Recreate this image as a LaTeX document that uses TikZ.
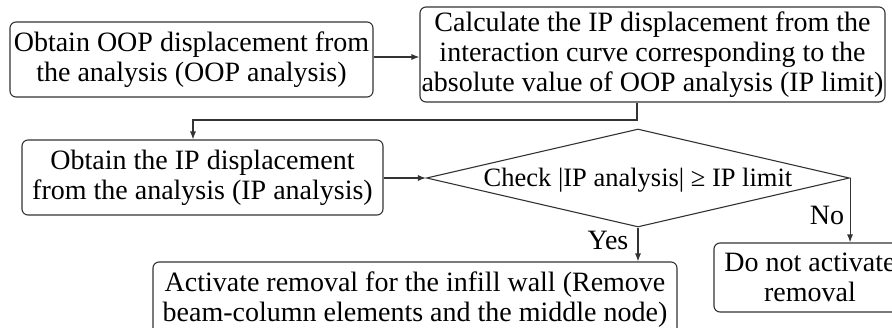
\documentclass[tikz,border=0pt]{standalone}
\usepackage{fontspec}
\setmainfont{Liberation Serif}
\usetikzlibrary{shapes.geometric,arrows.meta}
\begin{document}
\begin{tikzpicture}[x=1pt,y=-1pt,
  line width=1.1pt,
  flowbox/.style={draw=black!80, rounded corners=6pt, align=center, inner sep=0pt,
    font=\fontsize{28}{30}\selectfont, text=black},
  lbl/.style={inner sep=0pt, font=\fontsize{28}{30}\selectfont, text=black},
  arr/.style={draw=black!80, -{Latex[length=8pt,width=6pt]}},
  ]
\useasboundingbox (0,0) rectangle (892,327);
\clip (0,0) rectangle (892,327);
\fill[white] (0,0) rectangle (892,327);
\node[flowbox, minimum width=363pt, minimum height=75pt] (b1) at (191.5,59.5)
  {Obtain OOP displacement from\\the analysis (OOP analysis)};
\node[flowbox, minimum width=465pt, minimum height=95pt] (b2) at (652.5,54.5)
  {Calculate the IP displacement from the\\interaction curve corresponding to the\\absolute value of OOP analysis (IP limit)};
\node[flowbox, minimum width=361pt, minimum height=75pt] (b3) at (202.5,177.5)
  {Obtain the IP displacement\\from the analysis (IP analysis)};
\node[diamond, draw=black!80, minimum width=423pt, minimum height=98pt, inner sep=0pt] (d) at (638,178) {};
\node[lbl, font=\fontsize{26.5}{30}\selectfont] (dt) at ([yshift=-2pt]d.center) {Check |IP analysis| ≥ IP limit};
\node[flowbox, minimum width=524pt, minimum height=75pt] (b4) at (415,299.5)
  {Activate removal for the infill wall (Remove\\beam-column elements and the middle node)};
\node[flowbox, minimum width=192pt, minimum height=69pt] (b5) at (810,277.5)
  {Do not activate\\removal};
\coordinate (k1) at (637,120);
\coordinate (k2) at (193,120);
\draw[arr] (b1.east |- 0,57) -- (b2.west |- 0,57);
\draw[arr] (b2.south -| k1) -- (k1) -- (k2) -- (b3.north -| k2);
\draw[arr] (b3.east |- d.west) -- (d.west);
\draw[arr] (d.south) -- (d.south |- b4.north);
\draw[arr] (d.east) -- (d.east |- b5.north);
\node[lbl] (yes) at (608,240) {Yes};
\node[lbl] (no) at (827,215) {No};
\end{tikzpicture}
\end{document}
